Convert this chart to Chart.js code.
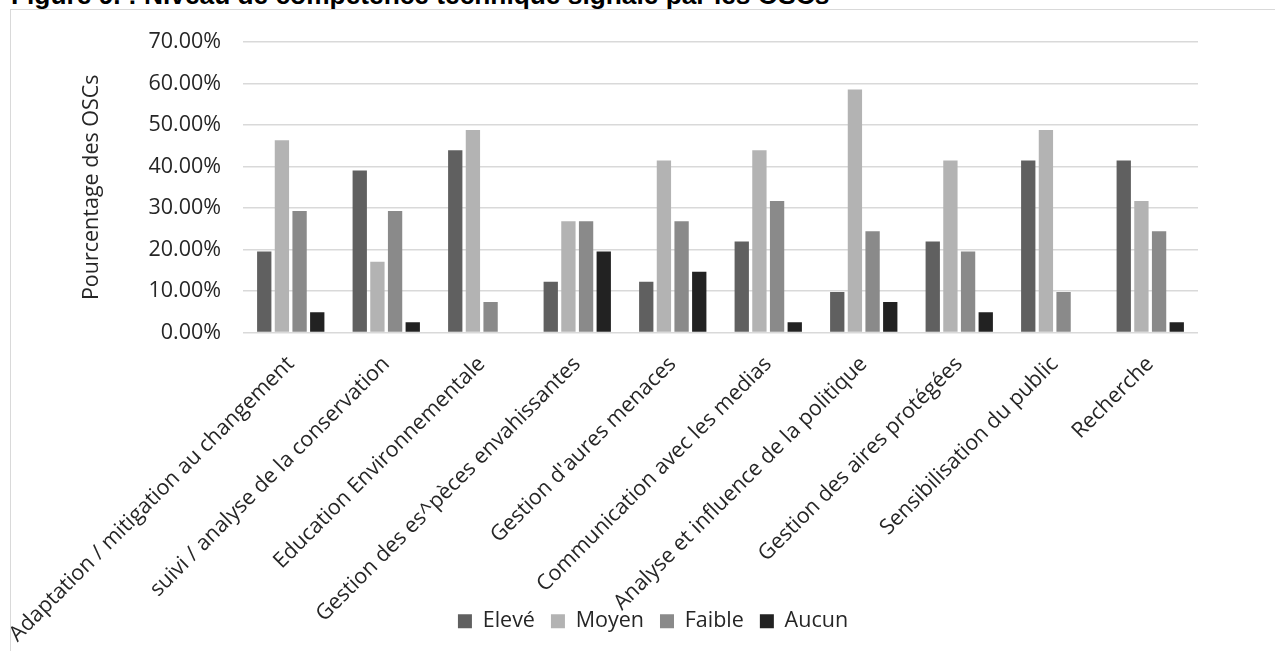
<!DOCTYPE html>
<html lang="fr">
<head>
<meta charset="utf-8">
<title>Niveau de compétence technique signalé par les OSCs</title>
<script src="https://cdn.jsdelivr.net/npm/chart.js@4.4.1/dist/chart.umd.min.js"></script>
<style>
  html, body { margin: 0; padding: 0; background: #ffffff; overflow: hidden; width: 1275px; height: 651px; }
  #heading {
    position: absolute; left: 11px; top: -18px; margin: 0;
    font: bold 26.3px "Liberation Sans", Arial, sans-serif; line-height: 1; color: #000;
    white-space: nowrap;
  }
  #frame {
    position: absolute; left: 10px; top: 9px; width: 1300px; height: 700px;
    border-left: 1px solid #d9d9d9; border-top: 1px solid #d9d9d9;
  }
  #chart { position: absolute; left: 0; top: 0; }
</style>
</head>
<body>
<h1 id="heading">Figure 9. : Niveau de compétence technique signalé par les OSCs</h1>
<div id="frame"><canvas id="chart" width="1284" height="650"></canvas></div>
<script>
// Domaines de compétence (axe des catégories)
const categories = [
  "Adaptation / mitigation au changement",
  "suivi / analyse de la conservation",
  "Education Environnementale",
  "Gestion des es^pèces envahissantes",
  "Gestion d'aures menaces",
  "Communication avec les medias",
  "Analyse et influence de la politique",
  "Gestion des aires protégées",
  "Sensibilisation du public",
  "Recherche"
];

// Part des OSCs (%) par niveau de compétence
const eleve  = [19.51, 39.02, 43.90, 12.20, 12.20, 21.95,  9.76, 21.95, 41.46, 41.46];
const moyen  = [46.34, 17.07, 48.78, 26.83, 41.46, 43.90, 58.54, 41.46, 48.78, 31.71];
const faible = [29.27, 29.27,  7.32, 26.83, 26.83, 31.71, 24.39, 19.51,  9.76, 24.39];
const aucun  = [ 4.88,  2.44,  0.00, 19.51, 14.63,  2.44,  7.32,  4.88,  0.00,  2.44];

const seriesNames = ["Elevé", "Moyen", "Faible", "Aucun"];
const seriesColors = ["#606060", "#b3b3b3", "#8a8a8a", "#222222"];

// Graduations de l'axe des valeurs
const yTicks = [0, 10, 20, 30, 40, 50, 60, 70];

const FONT = { family: "'Open Sans', 'Liberation Sans', sans-serif", size: 21.5 };
const TEXT = "#262626";

const seriesValues = [eleve, moyen, faible, aucun];
const datasets = seriesNames.map((name, i) => ({
  label: name,
  data: seriesValues[i],
  backgroundColor: seriesColors[i],
  borderWidth: 0,
  categoryPercentage: 0.74,
  barPercentage: 0.81
}));

// Centre the legend on the whole canvas rather than on the padded layout box
const centerLegend = {
  id: "centerLegend",
  afterLayout(chart) {
    const lg = chart.legend;
    if (!lg) return;
    const shift = chart.width / 2 - (lg.left + lg.right) / 2;
    lg.left += shift;
    lg.right += shift;
  }
};

new Chart(document.getElementById("chart"), {
  type: "bar",
  data: { labels: categories, datasets },
  plugins: [centerLegend],
  options: {
    responsive: false,
    animation: false,
    layout: { padding: { top: 32, right: 97, bottom: 18, left: 0 } },
    plugins: {
      title: { display: false },
      tooltip: { enabled: false },
      legend: {
        position: "bottom",
        labels: {
          boxWidth: 14, boxHeight: 14, padding: 16,
          color: TEXT, font: FONT
        }
      }
    },
    scales: {
      x: {
        grid: { display: false },
        border: { display: false },
        ticks: {
          color: TEXT, font: FONT,
          minRotation: 45, maxRotation: 45,
          autoSkip: false, padding: 11
        },
        afterFit(scale) {
          // long category names run down beside the legend: fixed band, no clipping,
          // and no extra side margin for the first slanted name
          scale.height = 262;
          scale.paddingLeft = 0;
          scale.paddingRight = 0;
          scale._computeLabelArea = () => undefined;
        }
      },
      y: {
        min: 0, max: 70,
        afterBuildTicks(scale) { scale.ticks = yTicks.map(v => ({ value: v })); },
        grid: { color: "#d9d9d9", lineWidth: 1.4, drawTicks: false },
        border: { display: false },
        ticks: {
          color: TEXT, font: FONT, padding: 22,
          callback: v => v.toFixed(2) + "%"
        },
        title: {
          display: true, text: "Pourcentage des OSCs",
          color: TEXT, font: FONT, padding: { top: 68, bottom: 0 }
        },
        afterFit(scale) {
          scale.width = 232;
          scale.paddingTop = 0;
          scale.paddingBottom = 0;
        }
      }
    }
  }
});
</script>
</body>
</html>
